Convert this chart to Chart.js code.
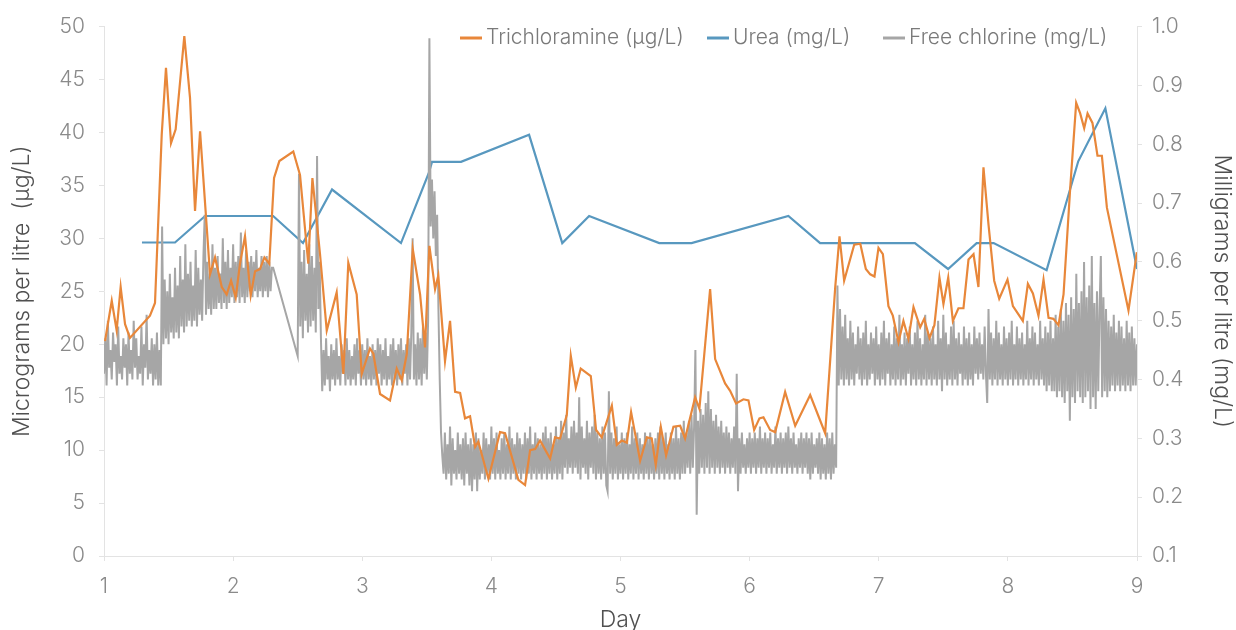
<!DOCTYPE html>
<html>
<head>
<meta charset="utf-8">
<script src="https://cdn.jsdelivr.net/npm/chart.js@4.4.1/dist/chart.umd.min.js"></script>
<style>
html,body{margin:0;padding:0;background:#fff}
#wrap{width:1236px;height:630px}
</style>
</head>
<body>
<div id="wrap"><canvas id="myChart" width="1236" height="630"></canvas></div>
<script>
// trichloramine, ug/L (left axis)
const trichDays=[1.008,1.060,1.098,1.129,1.163,1.201,1.356,1.395,1.447,1.480,1.519,1.555,1.622,1.666,1.705,1.744,1.821,1.860,1.912,1.950,
1.984,2.020,2.053,2.092,2.136,2.170,2.208,2.242,2.280,2.317,2.358,2.466,2.518,2.582,2.614,2.673,2.725,2.802,2.854,2.892,
2.957,2.996,3.060,3.086,3.138,3.215,3.267,3.306,3.345,3.391,3.448,3.486,3.520,3.564,3.589,3.641,3.680,3.719,3.758,3.796,
3.835,3.874,3.899,3.977,4.067,4.106,4.209,4.261,4.300,4.339,4.377,4.455,4.493,4.532,4.584,4.615,4.654,4.692,4.770,4.811,
4.855,4.933,4.971,5.010,5.049,5.082,5.152,5.204,5.242,5.273,5.312,5.353,5.410,5.462,5.500,5.578,5.611,5.694,5.733,5.810,
5.849,5.895,5.952,5.991,6.035,6.076,6.107,6.159,6.198,6.275,6.353,6.469,6.585,6.663,6.696,6.732,6.810,6.857,6.900,6.934,
6.967,6.998,7.032,7.075,7.109,7.153,7.191,7.230,7.269,7.321,7.352,7.393,7.431,7.470,7.501,7.538,7.574,7.617,7.656,7.695,
7.734,7.772,7.811,7.850,7.894,7.933,7.997,8.039,8.116,8.155,8.194,8.237,8.276,8.315,8.353,8.392,8.431,8.483,8.529,8.560,
8.591,8.617,8.655,8.694,8.728,8.767,8.934,8.999]
const trichValues=[20.3,24.1,21.3,25.4,21.9,20.6,22.7,23.9,39.8,46.1,39.0,40.3,49.1,43.3,32.6,40.1,26.6,28.2,25.4,24.7,
26.0,24.4,27.6,30.2,24.6,26.9,27.1,28.2,27.6,35.7,37.3,38.2,36.0,27.6,35.7,28.5,21.3,24.9,17.2,27.7,
24.7,17.2,19.6,19.1,15.3,14.7,17.7,16.6,19.1,29.0,24.7,19.7,29.3,25.2,26.5,18.4,22.2,15.5,15.4,13.0,
13.2,10.3,10.8,7.3,11.7,11.6,7.2,6.7,10.0,10.1,10.9,9.2,11.2,11.1,13.3,18.9,15.9,17.7,17.0,11.9,
11.2,14.2,10.5,10.9,10.7,13.6,9.0,11.2,11.1,8.6,12.2,9.5,12.2,12.3,11.1,15.0,13.9,25.2,18.6,16.3,
15.6,14.4,14.8,14.7,11.9,13.0,13.1,11.9,11.7,15.5,12.3,15.2,11.6,25.4,30.2,26.0,29.4,29.5,27.1,26.6,
26.4,29.1,28.5,23.6,22.7,20.2,22.2,20.5,23.5,21.6,22.4,20.6,21.8,26.3,23.8,26.3,22.2,23.4,23.4,28.0,
28.5,25.4,36.7,31.3,26.0,24.3,26.1,23.6,22.2,25.7,24.8,22.7,26.1,22.5,22.4,21.8,24.7,34.8,42.8,41.8,
40.4,41.8,40.9,37.8,37.8,32.9,23.2,28.7]

// urea, mg/L (right axis)
const ureaDays=[1.294,1.550,1.783,2.310,2.541,2.766,3.300,3.517,3.540,3.765,4.292,4.549,4.757,5.300,5.550,6.300,6.546,7.280,7.537,7.758,7.890,8.300,8.545,8.755,9.000]
const ureaValues=[0.633,0.633,0.678,0.678,0.632,0.723,0.632,0.752,0.770,0.770,0.816,0.632,0.678,0.632,0.632,0.678,0.632,0.632,0.588,0.632,0.632,0.586,0.771,0.861,0.588]

// free chlorine, mg/L (right axis), one reading every 0.01 day from day 1
const chlorineStart=1
const chlorineStep=0.01
const chlorineValues=[
0.41,0.47,0.39,0.50,0.42,0.45,0.40,0.48,0.43,0.46,
0.39,0.49,0.41,0.44,0.40,0.47,0.42,0.46,0.39,0.48,
0.41,0.45,0.40,0.50,0.42,0.47,0.40,0.44,0.41,0.49,
0.39,0.46,0.42,0.51,0.40,0.45,0.41,0.47,0.39,0.46,
0.40,0.48,0.39,0.45,0.39,
0.66,0.46,0.57,0.47,0.55,0.46,0.58,0.48,0.54,0.47,
0.59,0.48,0.56,0.47,0.61,0.49,0.57,0.48,0.63,0.49,
0.58,0.50,0.60,0.49,0.56,0.50,0.62,0.49,0.59,0.51,
0.57,0.50,0.61,0.68,0.51,0.60,0.52,0.58,0.51,0.63,
0.52,0.59,0.52,0.61,0.53,0.58,0.52,0.64,0.53,0.60,
0.52,0.62,0.53,0.59,0.54,0.63,0.53,0.60,0.54,0.61,
0.53,0.65,0.54,0.59,0.53,0.62,0.54,0.60,0.55,0.61,
0.54,0.60,0.55,0.62,0.54,0.59,0.55,0.61,0.54,0.60,
0.55,0.61,0.54,0.60,0.55,0.59,0.59,
null,null,null,null,null,null,null,null,null,null,null,null,null,null,null,null,null,null,
0.44,
0.75,0.49,0.60,0.47,0.62,0.50,0.58,0.48,0.63,0.49,
0.61,0.50,0.59,0.48,0.78,0.52,0.60,0.47,
0.38,0.45,0.39,0.47,0.40,0.44,0.38,0.46,0.40,0.45,
0.39,0.47,0.40,0.44,0.39,0.46,0.41,0.45,0.39,0.47,
0.40,0.45,0.39,0.44,0.40,0.46,0.39,0.47,0.41,0.45,
0.39,0.46,0.40,0.45,0.39,0.47,0.40,0.44,0.39,0.46,
0.40,0.45,0.39,0.47,0.41,0.46,0.39,0.45,0.40,0.47,
0.39,0.44,0.40,0.46,0.39,0.47,0.40,0.45,0.39,0.46,
0.40,0.47,0.39,0.45,0.41,0.46,0.39,0.47,0.40,0.48,
0.64,0.40,0.46,0.39,0.48,0.40,0.47,0.39,0.49,0.41,
0.48,0.40,0.50,
0.98,0.66,0.74,0.64,0.72,0.61,0.68,0.52,0.40,0.31,0.27,
0.24,0.31,0.23,0.29,0.24,0.32,0.22,0.30,0.24,0.28,
0.23,0.31,0.24,0.29,0.23,0.30,0.22,0.31,0.24,0.29,
0.22,0.30,0.21,0.29,0.23,0.31,0.21,0.30,0.23,0.28,
0.24,0.31,0.23,0.30,0.24,0.29,0.23,0.32,0.24,0.30,
0.23,0.31,0.24,0.28,0.23,0.30,0.24,0.31,0.23,0.29,
0.24,0.32,0.23,0.30,0.24,0.29,0.23,0.31,0.24,0.30,
0.23,0.29,0.24,0.31,0.23,0.30,0.24,0.32,0.23,0.29,
0.24,0.31,0.23,0.30,0.24,0.29,0.23,0.31,0.24,0.32,
0.23,0.30,0.24,0.31,0.23,0.29,0.24,0.32,0.23,0.30,
0.24,0.33,0.23,0.31,0.25,0.34,0.24,0.30,0.25,0.32,
0.24,0.33,0.25,0.31,0.24,0.37,0.23,0.32,0.25,0.30,
0.24,0.33,0.23,0.31,0.25,0.32,0.24,0.34,0.23,0.31,
0.24,0.30,0.23,0.32,0.24,0.31,0.22,0.21,0.38,0.24,
0.31,0.23,0.30,0.24,0.32,0.23,0.29,0.24,0.31,0.23,
0.30,0.24,0.31,0.23,0.29,0.24,0.32,0.23,0.30,0.24,
0.31,0.23,0.30,0.24,0.29,0.23,0.31,0.24,0.30,0.23,
0.31,0.24,0.29,0.23,0.30,0.24,0.31,0.23,0.32,0.24,
0.30,0.23,0.31,0.24,0.29,0.23,0.31,0.24,0.30,0.23,
0.32,0.24,0.30,0.23,0.31,0.24,0.33,0.24,0.31,0.25,
0.33,0.24,0.34,0.25,0.32,0.45,0.17,0.33,0.24,0.35,
0.25,0.34,0.24,0.36,0.25,0.38,0.24,0.35,0.25,0.33,
0.24,0.34,0.25,0.32,0.24,0.33,0.25,0.31,0.24,0.32,
0.25,0.31,0.24,0.30,0.25,0.32,0.24,0.41,0.21,0.30,
0.24,0.31,0.25,0.29,0.24,0.30,0.25,0.31,0.24,0.30,
0.25,0.31,0.24,0.30,0.25,0.32,0.24,0.30,0.25,0.31,
0.24,0.30,0.25,0.31,0.24,0.29,0.25,0.32,0.24,0.30,
0.25,0.31,0.24,0.30,0.25,0.31,0.24,0.32,0.25,0.30,
0.24,0.31,0.25,0.29,0.24,0.30,0.25,0.31,0.24,0.30,
0.25,0.31,0.24,0.30,0.23,0.31,0.24,0.29,0.25,0.30,
0.24,0.31,0.23,0.30,0.24,0.29,0.23,0.31,0.24,0.30,
0.23,0.31,0.24,0.29,0.25,
0.56,0.39,0.52,0.40,0.49,0.39,0.51,0.40,0.47,0.39,
0.50,0.40,0.48,0.39,0.46,0.41,0.49,0.40,0.47,0.39,
0.48,0.40,0.50,0.39,0.46,0.40,0.48,0.41,0.47,0.39,
0.49,0.40,0.46,0.39,0.48,0.40,0.50,0.39,0.47,0.41,
0.48,0.39,0.46,0.40,0.49,0.39,0.47,0.40,0.51,0.39,
0.46,0.40,0.48,0.39,0.47,0.41,0.49,0.39,0.46,0.40,
0.48,0.39,0.50,0.40,0.47,0.39,0.46,0.40,0.51,0.39,
0.48,0.40,0.47,0.39,0.49,0.40,0.46,0.39,0.50,0.40,
0.47,0.38,0.51,0.40,0.48,0.39,0.46,0.40,0.49,0.39,
0.50,0.40,0.47,0.39,0.48,0.41,0.46,0.39,0.49,0.40,
0.47,0.39,0.48,0.40,0.46,0.39,0.49,0.41,0.47,0.40,
0.48,0.41,0.46,0.40,0.49,0.41,0.36,0.52,0.40,0.48,
0.39,0.47,0.40,0.50,0.39,0.48,0.40,0.46,0.39,0.49,
0.40,0.47,0.39,0.48,0.40,0.50,0.39,0.46,0.40,0.49,
0.39,0.47,0.40,0.48,0.39,0.46,0.40,0.50,0.39,0.47,
0.40,0.49,0.39,0.48,0.40,0.46,0.39,0.50,0.40,0.47,
0.39,0.49,0.38,0.48,0.39,0.50,0.38,0.47,0.38,0.51,
0.37,0.49,0.38,0.52,0.37,0.50,0.36,0.53,0.38,0.51,
0.33,0.54,0.37,0.52,0.36,0.58,0.38,0.53,0.37,0.55,
0.36,0.60,0.37,0.54,0.38,0.56,0.35,0.61,0.37,0.53,
0.35,0.55,0.38,0.52,0.61,0.37,0.54,0.38,0.52,0.37,
0.50,0.38,0.49,0.39,0.51,0.38,0.48,0.39,0.50,0.38,
0.49,0.39,0.47,0.38,0.50,0.39,0.48,0.38,0.49,0.39,
0.47,0.39,0.46]

const dayTicks=[1,2,3,4,5,6,7,8,9]
const seriesNames=['Trichloramine (\u00b5g/L)','Urea (mg/L)','Free chlorine (mg/L)']
const seriesColors=['#E8873A','#5898BF','#A6A6A6']
const legendStarts=[460,707,883]

const fontName='Inter'
const tickColor='#8a8a8a'
const titleColor='#505050'
const lineColor='#e3e3e3'

function toPoints(days,values){
    return values.map((v,i)=>({x:days[i],y:v}))
}

const chlorinePoints=chlorineValues.map((v,i)=>({x:+(chlorineStart+i*chlorineStep).toFixed(2),y:v}))

const topLegend={
    id:'topLegend',
    afterDraw(chart){
        const ctx=chart.ctx
        ctx.save()
        ctx.font='300 21px '+fontName
        ctx.textBaseline='middle'
        const y=38
        seriesNames.forEach((name,i)=>{
            const x=legendStarts[i]
            ctx.strokeStyle=seriesColors[i]
            ctx.lineWidth=3
            ctx.beginPath()
            ctx.moveTo(x,y)
            ctx.lineTo(x+22,y)
            ctx.stroke()
            ctx.fillStyle='#7a7a7a'
            ctx.fillText(name,x+26,y)
        })
        ctx.restore()
    }
}

function loadChart(){
    Chart.defaults.font.family=fontName
    Chart.defaults.font.weight=300
    Chart.defaults.font.size=21
    const ctx=document.getElementById('myChart')
    new Chart(ctx,{
        type:'line',
        data:{
            datasets:[
                {
                    label:seriesNames[0],
                    data:toPoints(trichDays,trichValues),
                    borderColor:seriesColors[0],
                    borderWidth:2.2,
                    yAxisID:'y',
                    order:0
                },
                {
                    label:seriesNames[1],
                    data:toPoints(ureaDays,ureaValues),
                    borderColor:seriesColors[1],
                    borderWidth:2.2,
                    yAxisID:'y2',
                    order:2
                },
                {
                    label:seriesNames[2],
                    data:chlorinePoints,
                    borderColor:seriesColors[2],
                    borderWidth:2,
                    spanGaps:true,
                    yAxisID:'y2',
                    order:1
                }
            ]
        },
        options:{
            responsive:false,
            animation:false,
            layout:{padding:{top:25,left:0,right:0,bottom:0}},
            elements:{point:{radius:0},line:{tension:0}},
            plugins:{legend:{display:false},tooltip:{enabled:false}},
            scales:{
                x:{
                    type:'linear',
                    min:1,max:9,
                    afterBuildTicks(s){s.ticks=dayTicks.map(v=>({value:v}))},
                    ticks:{color:tickColor,padding:13,maxRotation:0},
                    grid:{drawOnChartArea:false,color:lineColor,tickLength:5},
                    border:{color:lineColor},
                    title:{display:true,text:'Day',color:titleColor,font:{size:23},padding:{top:0,bottom:-4}},
                    afterFit(s){s.height=74}
                },
                y:{
                    position:'left',
                    min:0,max:50,
                    ticks:{stepSize:5,color:tickColor,padding:14},
                    grid:{drawOnChartArea:false,color:lineColor,tickLength:5},
                    border:{color:lineColor},
                    title:{display:true,text:'Micrograms per litre  (\u00b5g/L)',color:titleColor,font:{size:23},padding:{top:8,bottom:0}},
                    afterFit(s){s.width=104}
                },
                y2:{
                    position:'right',
                    min:0.1,max:1.0,
                    ticks:{stepSize:0.1,color:tickColor,padding:10,callback:v=>v.toFixed(1)},
                    grid:{drawOnChartArea:false,color:lineColor,tickLength:5},
                    border:{color:lineColor},
                    title:{display:true,text:'Milligrams per litre (mg/L)',color:titleColor,font:{size:23},padding:{top:0,bottom:0}},
                    afterFit(s){s.width=99}
                }
            }
        },
        plugins:[topLegend]
    })
}

loadChart()
</script>
</body>
</html>
